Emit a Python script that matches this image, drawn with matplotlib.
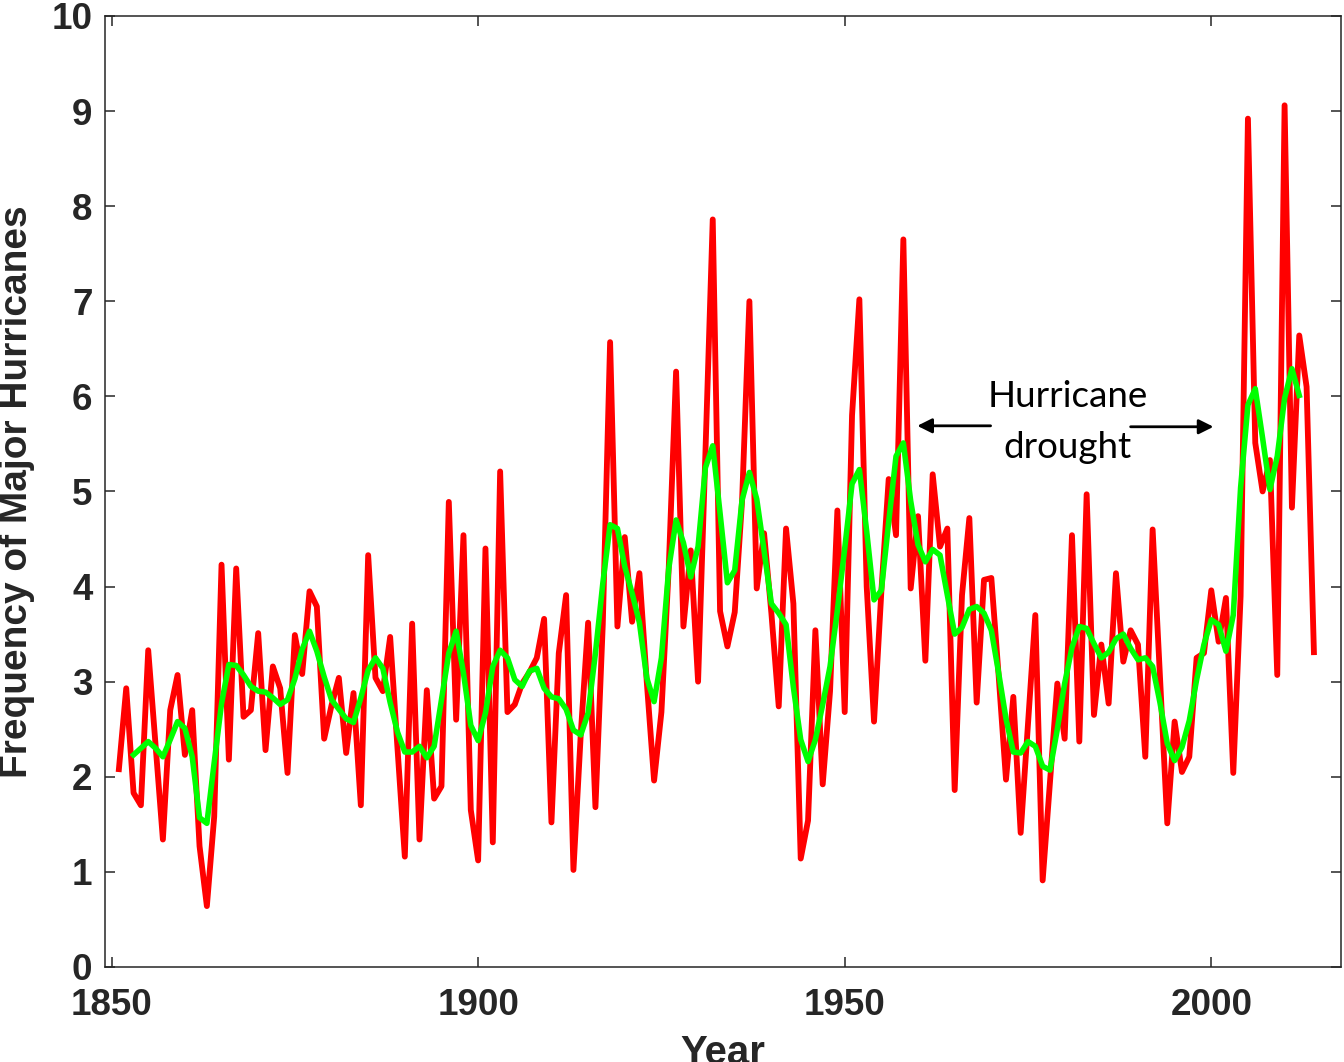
import numpy as np
import matplotlib
matplotlib.use("Agg")
import matplotlib.pyplot as plt

# Annual count of major hurricanes, 1851-2014
years = np.arange(1851, 2015)
counts = [
    2.08, 2.93, 1.83, 1.70, 3.33, 2.33, 1.34, 2.70, 3.07, 2.23,  # 1851-1860
    2.70, 1.27, 0.64, 1.58, 4.23, 2.18, 4.19, 2.63, 2.70, 3.51,  # 1861-1870
    2.28, 3.16, 2.93, 2.04, 3.49, 3.08, 3.95, 3.79, 2.40, 2.75,  # 1871-1880
    3.04, 2.25, 2.88, 1.70, 4.33, 3.04, 2.90, 3.47, 2.30, 1.16,  # 1881-1890
    3.61, 1.34, 2.91, 1.77, 1.90, 4.89, 2.60, 4.54, 1.65, 1.12,  # 1891-1900
    4.40, 1.31, 5.21, 2.68, 2.76, 2.98, 3.10, 3.25, 3.66, 1.52,  # 1901-1910
    3.30, 3.91, 1.02, 2.45, 3.62, 1.68, 3.60, 6.57, 3.58, 4.52,  # 1911-1920
    3.63, 4.14, 3.00, 1.96, 2.68, 4.20, 6.26, 3.58, 4.38, 3.00,  # 1921-1930
    5.40, 7.86, 3.74, 3.37, 3.73, 4.90, 7.00, 3.98, 4.56, 3.72,  # 1931-1940
    2.74, 4.61, 3.82, 1.14, 1.54, 3.54, 1.92, 2.90, 4.80, 2.68,  # 1941-1950
    5.80, 7.02, 4.00, 2.58, 3.95, 5.13, 4.54, 7.65, 3.98, 4.74,  # 1951-1960
    3.22, 5.18, 4.42, 4.61, 1.86, 3.91, 4.72, 2.78, 4.07, 4.09,  # 1961-1970
    3.06, 1.97, 2.84, 1.41, 2.55, 3.70, 0.91, 1.95, 2.98, 2.40,  # 1971-1980
    4.54, 2.37, 4.97, 2.65, 3.39, 2.77, 4.14, 3.21, 3.54, 3.39,  # 1981-1990
    2.21, 4.60, 3.05, 1.51, 2.58, 2.05, 2.21, 3.25, 3.30, 3.96,  # 1991-2000
    3.42, 3.88, 2.04, 3.90, 8.92, 5.51, 5.00, 5.33, 3.07, 9.06,  # 2001-2010
    4.83, 6.64, 6.10, 3.31,                                      # 2011-2014
]

# Smoothed curve, 1853-2012
smooth_years = np.arange(1853, 2013)
smooth = [
    2.23, 2.30, 2.37, 2.30, 2.21, 2.39, 2.58, 2.51,              # 1853-1860
    2.21, 1.57, 1.51, 2.15, 2.77, 3.18, 3.17, 3.07, 2.95, 2.90,  # 1861-1870
    2.89, 2.83, 2.76, 2.81, 3.03, 3.34, 3.53, 3.32, 3.05, 2.81,  # 1871-1880
    2.71, 2.61, 2.57, 2.83, 3.12, 3.25, 3.14, 2.78, 2.47, 2.26,  # 1881-1890
    2.26, 2.32, 2.20, 2.32, 2.81, 3.30, 3.53, 3.09, 2.54, 2.38,  # 1891-1900
    2.67, 3.16, 3.33, 3.25, 3.02, 2.95, 3.11, 3.14, 2.93, 2.84,  # 1901-1910
    2.82, 2.71, 2.49, 2.44, 2.67, 3.30, 4.03, 4.65, 4.61, 4.21,  # 1911-1920
    3.93, 3.62, 3.04, 2.79, 3.25, 4.19, 4.70, 4.46, 4.10, 4.42,  # 1921-1930
    5.25, 5.48, 4.77, 4.04, 4.17, 4.91, 5.20, 4.92, 4.38, 3.82,  # 1931-1940
    3.72, 3.60, 2.94, 2.39, 2.16, 2.39, 2.76, 3.16, 3.75, 4.40,  # 1941-1950
    5.08, 5.23, 4.58, 3.86, 3.96, 4.68, 5.37, 5.51, 4.90, 4.44,  # 1951-1960
    4.26, 4.39, 4.33, 3.91, 3.50, 3.57, 3.76, 3.79, 3.72, 3.54,  # 1961-1970
    3.09, 2.61, 2.26, 2.25, 2.37, 2.32, 2.11, 2.07, 2.50, 2.98,  # 1971-1980
    3.36, 3.58, 3.56, 3.40, 3.25, 3.31, 3.45, 3.50, 3.35, 3.23,  # 1981-1990
    3.25, 3.16, 2.78, 2.35, 2.17, 2.31, 2.59, 3.02, 3.39, 3.65,  # 1991-2000
    3.60, 3.32, 3.70, 5.04, 5.91, 6.08, 5.56, 5.02, 5.37, 5.98,  # 2001-2010
    6.29, 6.01,                                                  # 2011-2012
]

xticks = [1850, 1900, 1950, 2000]
yticks = list(range(0, 11))

axis_color = "#262626"
bold_font = ["Liberation Sans Narrow", "Liberation Sans"]

fig = plt.figure(figsize=(13.44, 10.62), dpi=100)
ax = fig.add_axes([0.0781, 0.0895, 0.9197, 0.8955])

ax.plot(years, counts, color="#ff0000", lw=4.2, solid_joinstyle="round", zorder=2)
ax.plot(smooth_years, smooth, color="#00ff00", lw=4.0, solid_joinstyle="round", zorder=3)

ax.set_xlim(1849.1, 2017.7)
ax.set_ylim(0, 10)
ax.set_xticks(xticks)
ax.set_yticks(yticks)

for s in ax.spines.values():
    s.set_color(axis_color)
    s.set_linewidth(1.1)
ax.tick_params(direction="in", length=7, width=1.1, color=axis_color,
               top=True, right=True, labelsize=26.5, labelcolor=axis_color)
ax.tick_params(axis="x", pad=15)
ax.tick_params(axis="y", pad=9)
for lbl in ax.get_xticklabels() + ax.get_yticklabels():
    lbl.set_fontfamily(bold_font)
    lbl.set_fontweight("bold")

ax.set_xlabel("Year", fontsize=29, fontweight="bold", family=bold_font,
              color=axis_color, labelpad=8)
ax.set_ylabel("Frequency of Major Hurricanes", fontsize=28, fontweight="bold",
              family=bold_font, color=axis_color, labelpad=12)

# drought annotation
ax.text(1980.4, 6.0, "Hurricane", ha="center", va="center", fontsize=26.5,
        family=["Lato", "DejaVu Sans"], color="black")
ax.text(1980.4, 5.46, "drought", ha="center", va="center", fontsize=26.5,
        family=["Lato", "DejaVu Sans"], color="black")
arrow = dict(arrowstyle="-|>", color="black", lw=2, mutation_scale=22,
             shrinkA=0, shrinkB=0)
ax.annotate("", xy=(1959.9, 5.69), xytext=(1969.9, 5.69), arrowprops=arrow)
ax.annotate("", xy=(2000.3, 5.68), xytext=(1989.0, 5.68), arrowprops=arrow)

fig.savefig("out.png", dpi=100)
